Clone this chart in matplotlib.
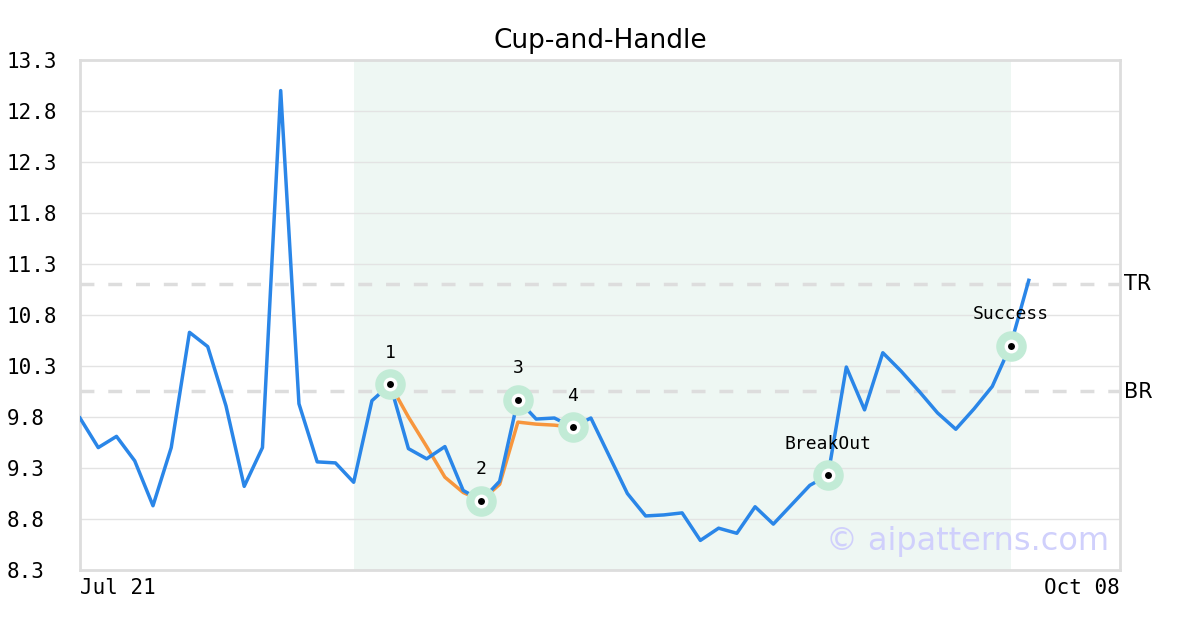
import matplotlib
matplotlib.use("Agg")
import matplotlib.pyplot as plt

# price series (one point per trading day, Jul 21 -> Oct 08)
prices = [9.79, 9.50, 9.61, 9.37, 8.93, 9.50, 10.63, 10.49, 9.91, 9.12,
          9.50, 13.00, 9.93, 9.36, 9.35, 9.16, 9.96, 10.12, 9.49, 9.39,
          9.51, 9.08, 8.98, 9.17, 9.97, 9.78, 9.79, 9.70, 9.79, 9.42,
          9.05, 8.83, 8.84, 8.86, 8.59, 8.71, 8.66, 8.92, 8.75, 8.94,
          9.13, 9.23, 10.29, 9.87, 10.43, 10.25, 10.05, 9.84, 9.68, 9.88,
          10.10, 10.50, 11.14]
n_days = 58

# cup-and-handle fit (orange)
fit_idx = [17, 18, 19, 20, 21, 22, 23, 24, 25, 26, 27]
fit_vals = [10.12, 9.80, 9.51, 9.21, 9.06, 8.98, 9.14, 9.75, 9.73, 9.72, 9.70]

# key points
key_idx = [17, 22, 24, 27, 41, 51]
key_labels = ["1", "2", "3", "4", "BreakOut", "Success"]

top_res = 11.10
bot_res = 10.05
shade_span = (15, 51)
yticks = [8.3, 8.8, 9.3, 9.8, 10.3, 10.8, 11.3, 11.8, 12.3, 12.8, 13.3]
xtick_labels = ["Jul 21", "Oct 08"]

fig = plt.figure(figsize=(12, 6.3), dpi=100)
ax = fig.add_axes([80 / 1200, 60 / 630, 1040 / 1200, 510 / 630])

ax.axvspan(shade_span[0], shade_span[1], color="#eef7f3", zorder=0, lw=0)
for y in yticks:
    ax.axhline(y, color="#e3e3e3", lw=1, zorder=1)
ax.axhline(top_res, color="#dddddd", lw=2.5, ls=(0, (4, 4)), zorder=1)
ax.axhline(bot_res, color="#dddddd", lw=2.5, ls=(0, (4, 4)), zorder=1)

ax.plot(range(len(prices)), prices, color="#2a86e8", lw=2.5, zorder=3)
ax.plot(fit_idx, fit_vals, color="#f7963d", lw=2.5, zorder=2)

for i, lab in zip(key_idx, key_labels):
    v = prices[i]
    ax.plot(i, v, "o", ms=22, color="#c2ebd6", mec="none", zorder=4)
    ax.plot(i, v, "o", ms=10, color="white", mec="none", zorder=5)
    ax.plot(i, v, "o", ms=5, color="black", mec="none", zorder=6)
    ax.annotate(lab, (i, v), xytext=(0, 22.5), textcoords="offset points",
                ha="center", va="center", fontsize=13, family="DejaVu Sans Mono")

ax.text(1.004, (top_res - 8.3) / 5.0, "TR", transform=ax.transAxes,
        ha="left", va="center", fontsize=15)
ax.text(1.004, (bot_res - 8.3) / 5.0, "BR", transform=ax.transAxes,
        ha="left", va="center", fontsize=15)

ax.text(0.99, 0.055, "\u00a9 aipatterns.com", transform=ax.transAxes,
        ha="right", va="center", fontsize=23, color="#d0d0fc", zorder=7)

ax.set_xlim(0, n_days - 1)
ax.set_ylim(8.3, 13.3)
ax.set_yticks(yticks)
ax.set_yticklabels(["%.1f" % y for y in yticks], family="DejaVu Sans Mono", fontsize=15)
ax.set_xticks([0, n_days - 1])
ax.set_xticklabels(xtick_labels, family="DejaVu Sans Mono", fontsize=15)
ax.get_xticklabels()[0].set_ha("left")
ax.get_xticklabels()[1].set_ha("right")
ax.tick_params(length=0)
ax.tick_params(axis="x", pad=6)
ax.tick_params(axis="y", pad=53)
for lab in ax.get_yticklabels():
    lab.set_ha("left")

for s in ax.spines.values():
    s.set_color("#dddddd")
    s.set_linewidth(2)

ax.set_title("Cup-and-Handle", fontsize=19, pad=9)

fig.savefig("out.png", dpi=100)
